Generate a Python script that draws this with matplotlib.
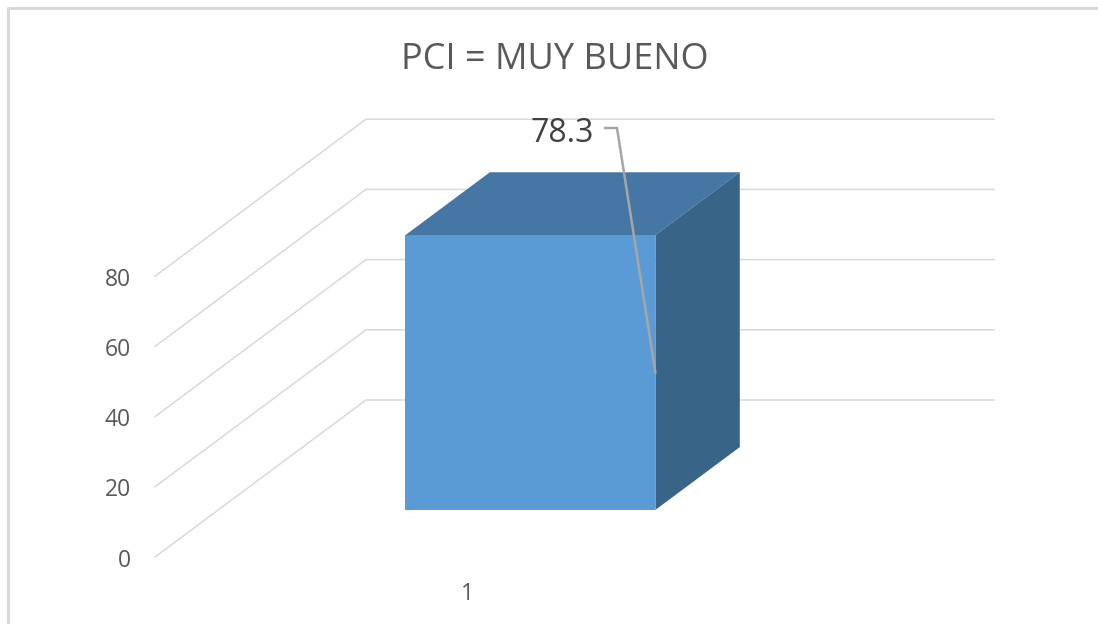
import matplotlib
matplotlib.use('Agg')
import matplotlib.pyplot as plt
from matplotlib.lines import Line2D
from matplotlib.patches import Polygon

plt.rcParams['font.family'] = ['Open Sans', 'DejaVu Sans']

W, H = 1098, 624

title = 'PCI = MUY BUENO'
categories = [1]
values = [78.3]
y_ticks = [0, 20, 40, 60, 80]
y_labels = ['0', '20', '40', '60', '80']

# 3D look: depth shifts a point right and up
DX = 211 / 628.0
DY = 157 / 3.51
BAR_WIDTH = 0.398
D_FRONT = 0.30
D_BACK = 0.70


def proj(x, v, d):
    return x + DX * d, v + DY * d


fig = plt.figure(figsize=(W / 100, H / 100), dpi=100)
ax = fig.add_axes([0, 0, 1, 1])
ax.set_xlim(0.5 - 155 / 628.0, 0.5 + (W - 155) / 628.0)
ax.set_ylim((557 - H) / 3.51, 557 / 3.51)
ax.axis('off')

# chart border, only top and left are inside the crop
fig.add_artist(Line2D([7.5 / W, 7.5 / W, 1], [0, 1 - 7.5 / H, 1 - 7.5 / H],
                      color='#d9d9d9', lw=2.2, transform=fig.transFigure))

grid = '#d9d9d9'
for t, lab in zip(y_ticks, y_labels):
    # side wall then back wall
    x0, y0 = proj(0.5, t, 0)
    x1, y1 = proj(0.5, t, 1)
    x2, y2 = proj(1.5, t, 1)
    ax.plot([x0, x1, x2], [y0, y1, y2], color=grid, lw=1.1, zorder=1,
            solid_joinstyle='miter')
    ax.text(0.5 - 24 / 628.0, t - 1, lab, ha='right', va='center',
            fontsize=16.5, color='#595959')

for c, v in zip(categories, values):
    l = c - BAR_WIDTH / 2 - 0.003
    r = c + BAR_WIDTH / 2 - 0.003
    front = [proj(l, 0, D_FRONT), proj(r, 0, D_FRONT), proj(r, v, D_FRONT), proj(l, v, D_FRONT)]
    top = [proj(l, v, D_FRONT), proj(r, v, D_FRONT), proj(r, v, D_BACK), proj(l, v, D_BACK)]
    side = [proj(r, 0, D_FRONT), proj(r, 0, D_BACK), proj(r, v, D_BACK), proj(r, v, D_FRONT)]
    ax.add_patch(Polygon(front, closed=True, fc='#5b9bd5', ec='none', zorder=3))
    ax.add_patch(Polygon(top, closed=True, fc='#4676a3', ec='none', zorder=3))
    ax.add_patch(Polygon(side, closed=True, fc='#386487', ec='none', zorder=3))

    ax.text(c - 0.003, -10.4, str(c), ha='center', va='center', fontsize=16.5, color='#595959')

    # data label with leader line to the middle of the bar edge
    tip = proj(r, v / 2, D_FRONT)
    elbow = ax.transData.inverted().transform((617, H - 128))
    start = ax.transData.inverted().transform((605, H - 128))
    ax.plot([start[0], elbow[0], tip[0]], [start[1], elbow[1], tip[1]],
            color='#a6a6a6', lw=1.8, zorder=4, solid_joinstyle='miter')
    fig.text(594 / W, 1 - 134 / H, str(v), ha='right', va='center',
             fontsize=23, color='#404040')

fig.text(555 / W, 1 - 60 / H, title, ha='center', va='center',
         fontsize=26, color='#595959')

plt.savefig('out.png', dpi=100)
